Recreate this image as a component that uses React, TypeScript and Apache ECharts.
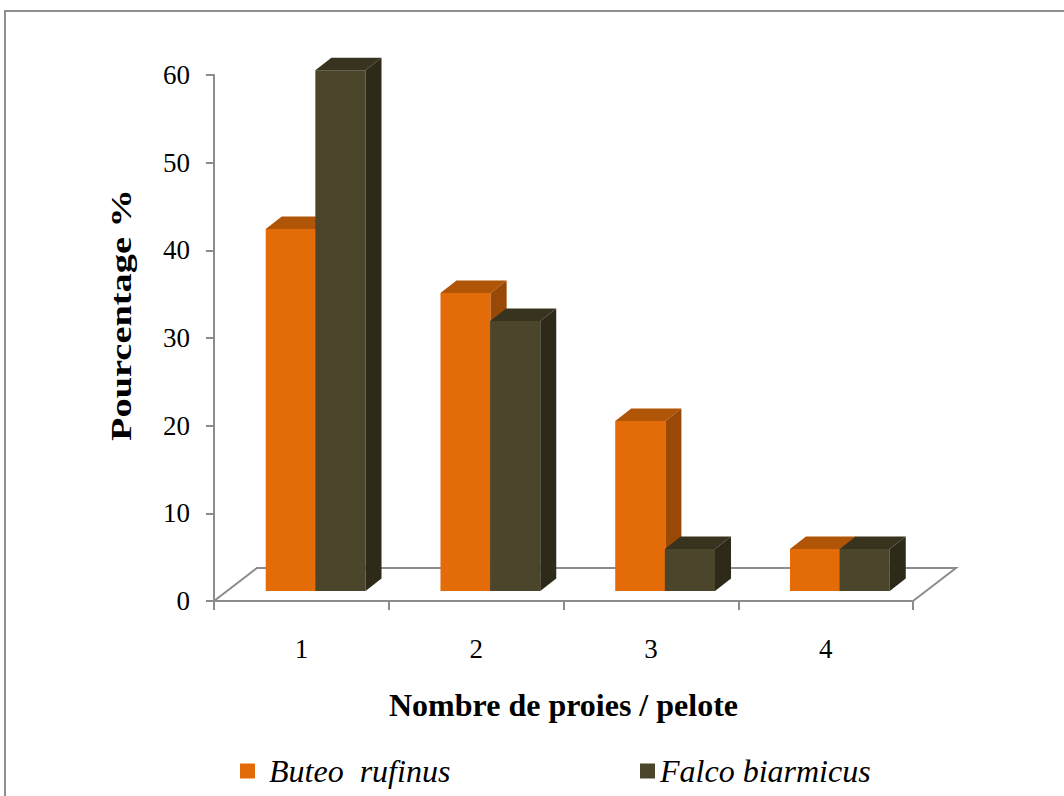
import React, { useEffect, useRef } from "react";
import * as echarts from "echarts";

// Nombre de proies par pelote (%)
const categories = ["1", "2", "3", "4"];
const seriesNames = ["Buteo  rufinus", "Falco biarmicus"];
const buteoValues = [41.3, 34.0, 19.4, 4.8];
const falcoValues = [59.4, 30.8, 4.8, 4.8];
const yTicks = { min: 0, max: 60, interval: 10 };
const yTitle = "Pourcentage %";
const xTitle = "Nombre de proies / pelote";

const SERIF = '"Liberation Serif", "Times New Roman", serif';
const AXIS_GREY = "#8c8c8c";

// Faces of each box: front, top, side
const PALETTES = [
  { front: "#E36C09", top: "#B05407", side: "#9A4806" },
  { front: "#4A452B", top: "#38331F", side: "#2D2A19" },
];

// Oblique projection of the floor and of the boxes (pixels)
const FLOOR_DX = 43;
const FLOOR_DY = 33;
const BAR_SHIFT_Y = 10;
const BOX_DX = 16;
const BOX_DY = 12.5;
const BAR_WIDTH = 0.287; // share of a category band
const BAR_LEFT = [-0.204, 0.08]; // left edge of each series relative to band centre

function boxRenderer(idx: number) {
  const pal = PALETTES[idx];
  return (params: any, api: any) => {
    const cat = api.value(0);
    const val = api.value(1);
    const band = api.size([1, 0])[0];
    const base = api.coord([cat, 0]);
    const top = api.coord([cat, val]);
    const x0 = base[0] + BAR_LEFT[idx] * band;
    const x1 = x0 + BAR_WIDTH * band;
    const yb = base[1] - BAR_SHIFT_Y;
    const yt = top[1] - BAR_SHIFT_Y;
    return {
      type: "group",
      children: [
        {
          type: "rect",
          shape: { x: x0, y: yt, width: x1 - x0, height: yb - yt },
          style: { fill: pal.front },
        },
        {
          type: "polygon",
          shape: {
            points: [
              [x0, yt],
              [x1, yt],
              [x1 + BOX_DX, yt - BOX_DY],
              [x0 + BOX_DX, yt - BOX_DY],
            ],
          },
          style: { fill: pal.top },
        },
        {
          type: "polygon",
          shape: {
            points: [
              [x1, yb],
              [x1, yt],
              [x1 + BOX_DX, yt - BOX_DY],
              [x1 + BOX_DX, yb - BOX_DY],
            ],
          },
          style: { fill: pal.side },
        },
      ],
    };
  };
}

function floorRenderer(params: any) {
  const cs = params.coordSys;
  const yf = cs.y + cs.height;
  return {
    type: "polyline",
    shape: {
      points: [
        [cs.x, yf],
        [cs.x + FLOOR_DX, yf - FLOOR_DY],
        [cs.x + cs.width + FLOOR_DX, yf - FLOOR_DY],
        [cs.x + cs.width, yf],
      ],
    },
    style: { fill: "none", stroke: AXIS_GREY, lineWidth: 2 },
  };
}

export default function App() {
  const ref = useRef<HTMLDivElement>(null);

  useEffect(() => {
    if (!ref.current) return;
    const chart = echarts.init(ref.current, null, { renderer: "svg" });

    const legendBase = {
      icon: "rect",
      itemWidth: 15,
      itemHeight: 15,
      selectedMode: false,
      textStyle: {
        fontFamily: SERIF,
        fontStyle: "italic",
        fontSize: 32,
        color: "#000",
      },
    };

    chart.setOption({
      animation: false,
      backgroundColor: "#ffffff",
      graphic: [
        {
          type: "rect",
          silent: true,
          z: -10,
          shape: { x: 5, y: 11, width: 1200, height: 1000 },
          style: { fill: "none", stroke: "#8e8e8e", lineWidth: 2 },
        },
        {
          // value-axis title, stretched along its reading direction
          type: "text",
          silent: true,
          x: 121,
          y: 315,
          rotation: Math.PI / 2,
          scaleX: 1.28,
          style: {
            text: yTitle,
            fontFamily: SERIF,
            fontWeight: "bold",
            fontSize: 30,
            fill: "#000",
            align: "center",
            verticalAlign: "middle",
          },
        },
      ],
      legend: [
        {
          ...legendBase,
          data: [seriesNames[0]],
          left: 235,
          top: 750,
          textStyle: { ...legendBase.textStyle, padding: [0, 0, 0, 9] },
        },
        {
          ...legendBase,
          data: [seriesNames[1]],
          left: 635,
          top: 750,
        },
      ],
      grid: { left: 214, top: 75, width: 699, height: 526 },
      xAxis: {
        type: "category",
        data: categories,
        boundaryGap: true,
        axisLine: { show: true, lineStyle: { color: AXIS_GREY, width: 2 } },
        axisTick: {
          show: true,
          interval: 0,
          length: 9,
          lineStyle: { color: AXIS_GREY, width: 2 },
        },
        axisLabel: {
          fontFamily: SERIF,
          fontSize: 27,
          color: "#000",
          margin: 34,
        },
        name: xTitle,
        nameLocation: "middle",
        nameGap: 88,
        nameTextStyle: {
          fontFamily: SERIF,
          fontWeight: "bold",
          fontSize: 32,
          color: "#000",
        },
      },
      yAxis: {
        type: "value",
        min: yTicks.min,
        max: yTicks.max,
        interval: yTicks.interval,
        splitLine: { show: false },
        axisLine: { show: true, lineStyle: { color: AXIS_GREY, width: 2 } },
        axisTick: {
          show: true,
          length: 8,
          lineStyle: { color: AXIS_GREY, width: 2 },
        },
        axisLabel: {
          fontFamily: SERIF,
          fontSize: 27,
          color: "#000",
          margin: 24,
        },
      },
      series: [
        {
          type: "custom",
          name: "floor",
          renderItem: floorRenderer,
          data: [[0, 0]],
          silent: true,
          z: 1,
        },
        {
          type: "custom",
          name: seriesNames[0],
          renderItem: boxRenderer(0),
          itemStyle: { color: PALETTES[0].front },
          encode: { x: 0, y: 1 },
          data: buteoValues.map((v, i) => [i, v]),
          z: 2,
        },
        {
          type: "custom",
          name: seriesNames[1],
          renderItem: boxRenderer(1),
          itemStyle: { color: PALETTES[1].front },
          encode: { x: 0, y: 1 },
          data: falcoValues.map((v, i) => [i, v]),
          z: 3,
        },
      ],
    });

    return () => chart.dispose();
  }, []);

  return (
    <div
      ref={ref}
      style={{
        position: "absolute",
        left: 0,
        top: 0,
        width: 1064,
        height: 796,
        background: "#fff",
      }}
    />
  );
}
